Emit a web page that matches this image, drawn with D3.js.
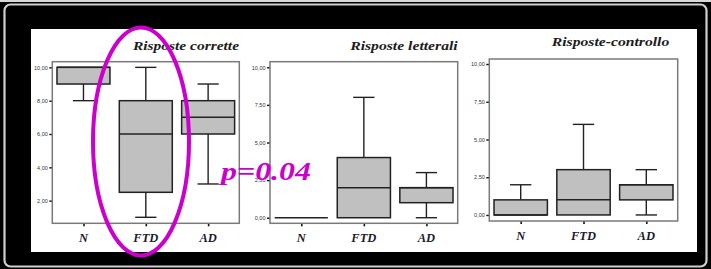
<!DOCTYPE html>
<html><head><meta charset="utf-8">
<script src="https://cdn.jsdelivr.net/npm/d3@7"></script>
<style>html,body{margin:0;padding:0;background:#000;}svg{display:block;}</style>
</head><body>
<script>
const categories = ["N", "FTD", "AD"];
const panelTitles = ["Risposte corrette", "Risposte letterali", "Risposte-controllo"];
// box statistics per panel, in category order
const correttMin = [8, 1, 3], correttQ1 = [9, 2.5, 6], correttMed = [10, 6, 7], correttQ3 = [10, 8, 8], correttMax = [10, 10, 9];
const letterMin = [0, 0, 0], letterQ1 = [0, 0, 1], letterMed = [0, 2, 2], letterQ3 = [0, 4, 2], letterMax = [0, 8, 3];
const controlMin = [0, 0, 0], controlQ1 = [0, 0, 1], controlMed = [0, 1, 2], controlQ3 = [1, 3, 2], controlMax = [2, 6, 3];
const ticks1 = [2, 4, 6, 8, 10];
const ticks23 = [0, 2.5, 5, 7.5, 10];
const pLabel = "p=0.04";

const W = 711, H = 269;
const svg = d3.select("body").append("svg").attr("width", W).attr("height", H);
svg.append("rect").attr("width", W).attr("height", H).attr("fill", "#000");
svg.append("rect").attr("x", 0).attr("y", 0).attr("width", W).attr("height", 2).attr("fill", "#d8d8d8");
svg.append("rect").attr("x", 4.5).attr("y", 4.5).attr("width", 702).attr("height", 262)
  .attr("rx", 6).attr("fill", "none").attr("stroke", "#cfcfcf").attr("stroke-width", 2.2);
svg.append("rect").attr("x", 31).attr("y", 29).attr("width", 666).attr("height", 223).attr("fill", "#fff");

function stats(mins, q1s, meds, q3s, maxs) {
  return categories.map((c, i) => ({ cat: c, min: mins[i], q1: q1s[i], med: meds[i], q3: q3s[i], max: maxs[i] }));
}
const fmt = v => d3.format(".2f")(v).replace(".", ",");

const panels = [
  { title: panelTitles[0], data: stats(correttMin, correttQ1, correttMed, correttQ3, correttMax), ticks: ticks1,
    x0: 52.3, x1: 239.3, y0: 61.7, y1: 223.3, dom: [0.64, 10.34], titleY: 50, titleX: 239, titleW: 106, labY: 242 },
  { title: panelTitles[1], data: stats(letterMin, letterQ1, letterMed, letterQ3, letterMax), ticks: ticks23,
    x0: 270, x1: 457.7, y0: 61.7, y1: 223.3, dom: [-0.37, 10.37], titleY: 50, titleX: 457.7, titleW: 107.5, labY: 242 },
  { title: panelTitles[2], data: stats(controlMin, controlQ1, controlMed, controlQ3, controlMax), ticks: ticks23,
    x0: 489.3, x1: 677.7, y0: 59, y1: 221, dom: [-0.4, 10.33], titleY: 46, titleX: 669.3, titleW: 117.5, labY: 240 }
];

panels.forEach(p => {
  const g = svg.append("g");
  const x = d3.scalePoint().domain(categories).range([p.x0, p.x1]).padding(0.5);
  const y = d3.scaleLinear().domain(p.dom).range([p.y1, p.y0]);
  const bw = x.step() * 0.85, cw = x.step() * 0.34;

  g.append("text").attr("x", p.titleX - p.titleW).attr("y", p.titleY)
    .attr("textLength", p.titleW).attr("lengthAdjust", "spacingAndGlyphs")
    .attr("font-family", "Liberation Serif").attr("font-weight", "bold").attr("font-style", "italic")
    .attr("font-size", 13).attr("fill", "#1c1c1c").text(p.title);

  // y axis
  const ya = g.append("g").attr("transform", `translate(${p.x0},0)`)
    .call(d3.axisLeft(y).tickValues(p.ticks).tickFormat(fmt).tickSize(3).tickPadding(1.5));
  ya.select(".domain").remove();
  ya.selectAll("line").attr("stroke", "#111").attr("stroke-width", 1.4);
  ya.selectAll("text").attr("font-family", "Liberation Sans").attr("font-size", 5.5).attr("fill", "#333");

  // x axis ticks
  const xa = g.append("g").attr("transform", `translate(0,${p.y1})`)
    .call(d3.axisBottom(x).tickSize(3).tickFormat(""));
  xa.select(".domain").remove();
  xa.selectAll("line").attr("stroke", "#111").attr("stroke-width", 1.6);

  g.selectAll(".xl").data(categories).enter().append("text")
    .attr("x", d => x(d)).attr("y", p.labY).attr("text-anchor", "middle")
    .attr("font-family", "Liberation Serif").attr("font-weight", "bold").attr("font-style", "italic")
    .attr("font-size", 12.5).attr("fill", "#1a1a2e").text(d => d);

  const sc = "#222", sw = 1.4;
  const b = g.selectAll(".bx").data(p.data).enter().append("g");
  b.filter(d => d.max > d.q3).append("line").attr("x1", d => x(d.cat)).attr("x2", d => x(d.cat))
    .attr("y1", d => y(d.max)).attr("y2", d => y(d.q3)).attr("stroke", sc).attr("stroke-width", sw);
  b.filter(d => d.min < d.q1).append("line").attr("x1", d => x(d.cat)).attr("x2", d => x(d.cat))
    .attr("y1", d => y(d.min)).attr("y2", d => y(d.q1)).attr("stroke", sc).attr("stroke-width", sw);
  b.filter(d => d.max > d.q3).append("line").attr("x1", d => x(d.cat) - cw / 2).attr("x2", d => x(d.cat) + cw / 2)
    .attr("y1", d => y(d.max)).attr("y2", d => y(d.max)).attr("stroke", sc).attr("stroke-width", sw);
  b.filter(d => d.min < d.q1).append("line").attr("x1", d => x(d.cat) - cw / 2).attr("x2", d => x(d.cat) + cw / 2)
    .attr("y1", d => y(d.min)).attr("y2", d => y(d.min)).attr("stroke", sc).attr("stroke-width", sw);
  b.append("rect").attr("x", d => x(d.cat) - bw / 2).attr("width", bw)
    .attr("y", d => y(d.q3)).attr("height", d => y(d.q1) - y(d.q3))
    .attr("fill", "#c0c0c0").attr("stroke", sc).attr("stroke-width", 1.5);
  b.append("line").attr("x1", d => x(d.cat) - bw / 2).attr("x2", d => x(d.cat) + bw / 2)
    .attr("y1", d => y(d.med)).attr("y2", d => y(d.med)).attr("stroke", sc).attr("stroke-width", 1.5);

  // frame
  g.append("rect").attr("x", p.x0).attr("y", p.y0).attr("width", p.x1 - p.x0).attr("height", p.y1 - p.y0)
    .attr("fill", "none").attr("stroke", "#7a7a7a").attr("stroke-width", 1.5);
});

// annotations
svg.append("ellipse").attr("cx", 141).attr("cy", 141.5).attr("rx", 48).attr("ry", 114)
  .attr("fill", "none").attr("stroke", "#cc00cc").attr("stroke-width", 4);
svg.append("text").attr("x", 221).attr("y", 179.5).attr("font-family", "Liberation Serif")
  .attr("font-weight", "bold").attr("font-style", "italic").attr("font-size", 26)
  .attr("textLength", 90).attr("lengthAdjust", "spacingAndGlyphs")
  .attr("fill", "#cc00cc").text(pLabel);
</script>
</body></html>
